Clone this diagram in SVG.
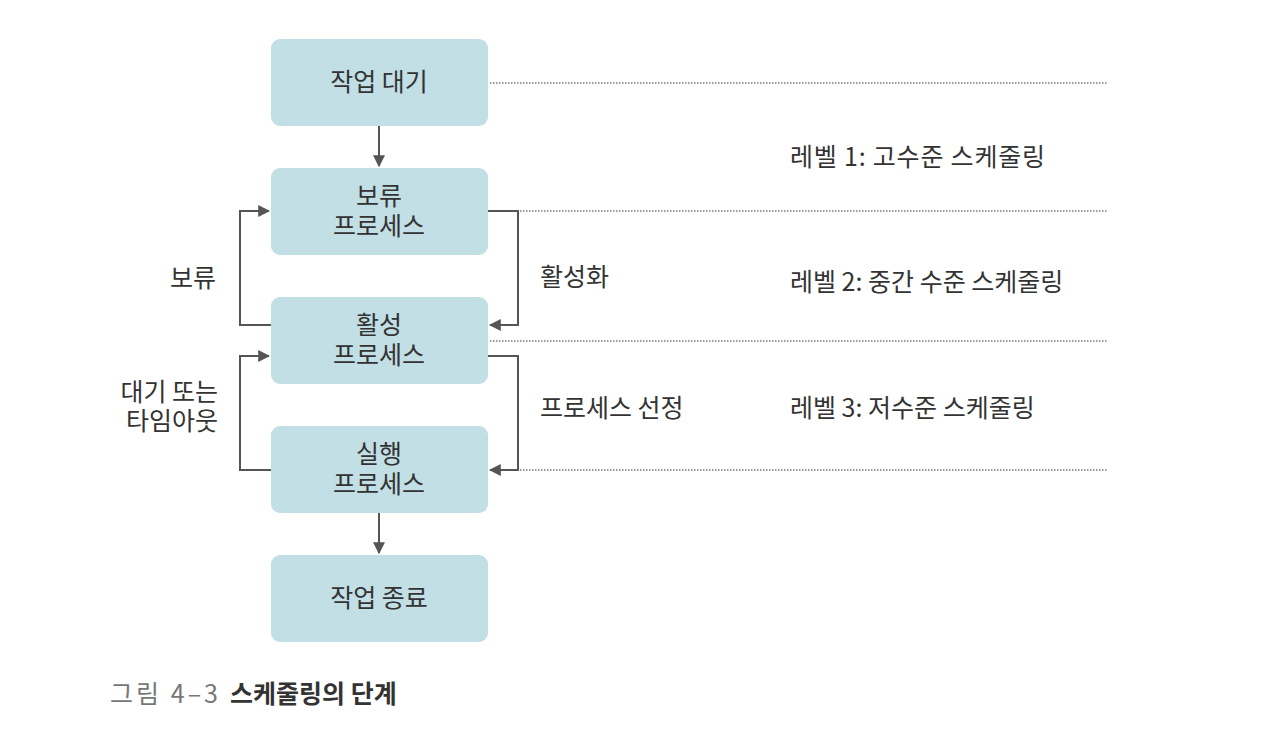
<svg xmlns="http://www.w3.org/2000/svg" width="1268" height="730" viewBox="0 0 1268 730">
<style>
.box{fill:#c1dfe5;}
.t{font-family:"Noto Sans CJK KR","Noto Sans",sans-serif;font-size:25px;fill:#333;}
.c{text-anchor:middle;}
.e{text-anchor:end;}
.ln{fill:none;stroke:#555;stroke-width:2;}
.dot{fill:none;stroke:#777;stroke-width:1.5;stroke-dasharray:1.5 1.5;}
</style>
<defs>
<marker id="ah" viewBox="0 0 10 10" refX="9" refY="5" markerWidth="6" markerHeight="6" markerUnits="strokeWidth" orient="auto">
<path d="M0,0 L10,5 L0,10 z" fill="#555"/>
</marker>
</defs>
<rect width="1268" height="730" fill="#fff"/>
<g id="levels">
<line class="dot" x1="490" y1="83" x2="1107" y2="83"/>
<line class="dot" x1="520" y1="211" x2="1107" y2="211"/>
<line class="dot" x1="490" y1="341" x2="1107" y2="341"/>
<line class="dot" x1="520" y1="470" x2="1107" y2="470"/>
<text class="t" x="790" y="166" textLength="255">레벨 1: 고수준 스케줄링</text>
<text class="t" x="790" y="291">레벨 2: 중간 수준 스케줄링</text>
<text class="t" x="790" y="417">레벨 3: 저수준 스케줄링</text>
</g>
<g id="connectors">
<line class="ln" x1="379" y1="126" x2="379" y2="166" marker-end="url(#ah)"/>
<line class="ln" x1="379" y1="513" x2="379" y2="553" marker-end="url(#ah)"/>
<polyline class="ln" points="271,325 240,325 240,211 269,211" marker-end="url(#ah)"/>
<polyline class="ln" points="271,470 240,470 240,356 269,356" marker-end="url(#ah)"/>
<polyline class="ln" points="488,211 518,211 518,325 490,325" marker-end="url(#ah)"/>
<polyline class="ln" points="488,356 518,356 518,470 490,470" marker-end="url(#ah)"/>
<text class="t e" x="216" y="287">보류</text>
<text class="t e" x="218" y="401">대기 또는</text>
<text class="t e" x="218" y="430">타임아웃</text>
<text class="t" x="540" y="286">활성화</text>
<text class="t" x="540" y="417">프로세스 선정</text>
</g>
<g id="n1"><rect class="box" x="271" y="39" width="217" height="87" rx="9"/><text class="t c" x="379" y="91">작업 대기</text></g>
<g id="n2"><rect class="box" x="271" y="168" width="217" height="87" rx="9"/><text class="t c" x="379" y="205">보류</text><text class="t c" x="379" y="235">프로세스</text></g>
<g id="n3"><rect class="box" x="271" y="297" width="217" height="87" rx="9"/><text class="t c" x="379" y="334">활성</text><text class="t c" x="379" y="364">프로세스</text></g>
<g id="n4"><rect class="box" x="271" y="426" width="217" height="87" rx="9"/><text class="t c" x="379" y="463">실행</text><text class="t c" x="379" y="493">프로세스</text></g>
<g id="n5"><rect class="box" x="271" y="555" width="217" height="87" rx="9"/><text class="t c" x="379" y="607">작업 종료</text></g>
<g id="caption">
<text class="t" x="110" y="703" style="fill:#777" textLength="108">그림 4–3</text>
<text class="t" x="230" y="703" style="font-weight:bold">스케줄링의 단계</text>
</g>
</svg>
